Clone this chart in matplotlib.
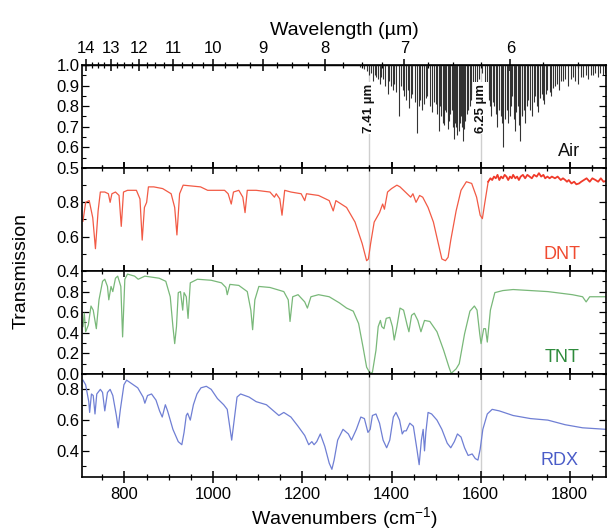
import numpy as np
import matplotlib
matplotlib.use("Agg")
import matplotlib.pyplot as plt
from matplotlib.ticker import MultipleLocator, FixedLocator

plt.rcParams['font.family'] = ['Liberation Sans', 'DejaVu Sans']
plt.rcParams['mathtext.fontset'] = 'custom'
plt.rcParams['mathtext.rm'] = 'Liberation Sans'
plt.rcParams['mathtext.it'] = 'Liberation Sans:italic'

# ---------------- data ----------------
air_pos = [1330, 1338, 1344, 1350, 1354, 1358, 1362, 1365, 1369, 1373, 1377, 1380, 1385,
           1391, 1395, 1399, 1403, 1406, 1411, 1417, 1421, 1425, 1429, 1432, 1436, 1439,
           1443, 1447, 1452, 1458, 1462, 1465, 1469, 1473, 1477, 1480, 1486, 1491, 1495,
           1499, 1503, 1506, 1509, 1512, 1515, 1518, 1521, 1523, 1526, 1529, 1532, 1535,
           1538, 1540, 1543, 1545, 1548, 1551, 1553, 1555, 1558, 1560, 1563, 1566, 1569,
           1572, 1576, 1579, 1583, 1587, 1592, 1596, 1604, 1610, 1614, 1618, 1621, 1624,
           1627, 1630, 1634, 1637, 1641, 1645, 1648, 1651, 1655, 1659, 1662, 1666, 1669,
           1671, 1674, 1677, 1680, 1683, 1686, 1689, 1692, 1694, 1697, 1700, 1704, 1707,
           1711, 1715, 1719, 1722, 1726, 1729, 1733, 1737, 1740, 1743, 1747, 1750, 1755,
           1759, 1763, 1767, 1772, 1776, 1781, 1785, 1790, 1796, 1802, 1808, 1813, 1819,
           1825, 1830, 1836, 1841, 1847, 1852, 1858, 1863, 1869, 1874, 1879]
air_min = [0.99, 0.98, 0.97, 0.95, 0.96, 0.92, 0.95, 0.94, 0.93, 0.91, 0.94, 0.93, 0.90,
           0.86, 0.92, 0.90, 0.88, 0.91, 0.87, 0.75, 0.90, 0.88, 0.85, 0.83, 0.88, 0.79,
           0.84, 0.86, 0.82, 0.67, 0.80, 0.83, 0.78, 0.81, 0.84, 0.85, 0.80, 0.77, 0.82,
           0.81, 0.76, 0.68, 0.80, 0.75, 0.72, 0.71, 0.78, 0.77, 0.69, 0.73, 0.76, 0.78,
           0.70, 0.64, 0.72, 0.70, 0.66, 0.68, 0.72, 0.75, 0.70, 0.63, 0.69, 0.73, 0.76,
           0.78, 0.80, 0.83, 0.86, 0.88, 0.90, 0.93, 0.96, 0.90, 0.86, 0.83, 0.80, 0.75,
           0.82, 0.80, 0.76, 0.70, 0.78, 0.75, 0.72, 0.60, 0.74, 0.78, 0.72, 0.75, 0.80,
           0.85, 0.74, 0.68, 0.77, 0.80, 0.71, 0.63, 0.76, 0.75, 0.78, 0.72, 0.80, 0.83,
           0.78, 0.75, 0.82, 0.85, 0.80, 0.77, 0.84, 0.86, 0.83, 0.81, 0.86, 0.88, 0.87,
           0.85, 0.89, 0.90, 0.91, 0.88, 0.92, 0.92, 0.93, 0.90, 0.93, 0.94, 0.92, 0.91,
           0.94, 0.94, 0.95, 0.93, 0.95, 0.95, 0.96, 0.94, 0.96, 0.95, 0.96]

dnt_x = [707, 713, 721, 729, 735, 741, 746, 756, 764, 768, 772, 780, 788, 793, 798, 807,
         827, 835, 840, 845, 850, 854, 866, 886, 905, 913, 918, 924, 932, 971, 987, 1025,
         1033, 1040, 1045, 1057, 1066, 1071, 1076, 1096, 1127, 1137, 1141, 1149, 1154,
         1160, 1174, 1197, 1205, 1209, 1236, 1260, 1269, 1275, 1299, 1318, 1334, 1344,
         1348, 1353, 1361, 1373, 1380, 1384, 1391, 1400, 1412, 1419, 1431, 1443, 1448,
         1455, 1463, 1470, 1482, 1494, 1505, 1513, 1521, 1527, 1533, 1545, 1556, 1568,
         1580, 1591, 1599, 1604, 1609, 1617]
dnt_y = [0.69, 0.80, 0.81, 0.71, 0.53, 0.75, 0.86, 0.86, 0.85, 0.80, 0.85, 0.86, 0.84,
         0.66, 0.86, 0.87, 0.87, 0.82, 0.58, 0.77, 0.80, 0.89, 0.89, 0.88, 0.85, 0.77,
         0.61, 0.85, 0.90, 0.89, 0.87, 0.87, 0.85, 0.79, 0.86, 0.87, 0.83, 0.74, 0.87,
         0.87, 0.86, 0.83, 0.85, 0.82, 0.725, 0.87, 0.86, 0.85, 0.81, 0.85, 0.84, 0.81,
         0.75, 0.81, 0.77, 0.685, 0.56, 0.46, 0.47, 0.56, 0.685, 0.74, 0.79, 0.76, 0.86,
         0.88, 0.90, 0.89, 0.86, 0.83, 0.85, 0.80, 0.84, 0.83, 0.77, 0.685, 0.56, 0.47,
         0.46, 0.48, 0.58, 0.75, 0.87, 0.92, 0.91, 0.83, 0.725, 0.705, 0.79, 0.92]
# noisy high-transmission tail of the DNT spectrum
dnt_tail_x = [1617, 1622, 1626, 1630, 1634, 1638, 1642, 1646, 1650, 1654, 1658, 1662,
              1666, 1670, 1673, 1678, 1682, 1686, 1690, 1695, 1700, 1705, 1710, 1715,
              1720, 1726, 1731, 1736, 1741, 1745, 1750, 1755, 1760, 1767, 1773, 1780,
              1785, 1790, 1794, 1798, 1804, 1810, 1815, 1821, 1826, 1832, 1838, 1845,
              1851, 1858, 1864, 1870, 1876, 1882]
dnt_tail_y = [0.92, 0.94, 0.93, 0.95, 0.94, 0.96, 0.93, 0.95, 0.94, 0.96, 0.95, 0.93,
              0.95, 0.94, 0.96, 0.94, 0.95, 0.93, 0.95, 0.96, 0.94, 0.96, 0.95, 0.94,
              0.96, 0.95, 0.97, 0.95, 0.96, 0.94, 0.95, 0.94, 0.95, 0.94, 0.95, 0.93,
              0.94, 0.93, 0.92, 0.93, 0.91, 0.92, 0.905, 0.91, 0.92, 0.93, 0.94, 0.92,
              0.94, 0.93, 0.92, 0.94, 0.92, 0.925]

tnt_x = [707, 710, 713, 719, 725, 730, 737, 743, 751, 756, 762, 765, 770, 774, 780, 785,
         792, 796, 801, 807, 823, 831, 846, 878, 893, 903, 909, 913, 917, 921, 926, 931,
         934, 939, 943, 948, 964, 995, 1018, 1028, 1031, 1037, 1057, 1076, 1084, 1088,
         1093, 1102, 1127, 1158, 1168, 1172, 1178, 1190, 1205, 1211, 1219, 1236, 1260,
         1283, 1299, 1314, 1326, 1336, 1344, 1352, 1357, 1365, 1370, 1375, 1378, 1383,
         1388, 1396, 1402, 1406, 1412, 1419, 1427, 1435, 1439, 1445, 1451, 1459, 1466,
         1474, 1486, 1502, 1517, 1529, 1534, 1545, 1552, 1564, 1576, 1586, 1592, 1598,
         1601, 1607, 1611, 1615, 1622, 1632, 1650, 1673, 1751, 1806, 1829, 1837, 1845,
         1882]
tnt_y = [0.46, 0.59, 0.41, 0.475, 0.66, 0.62, 0.44, 0.72, 0.90, 0.92, 0.85, 0.72, 0.85,
         0.80, 0.93, 0.95, 0.85, 0.36, 0.92, 0.97, 0.95, 0.92, 0.95, 0.93, 0.90, 0.75,
         0.46, 0.295, 0.46, 0.79, 0.80, 0.62, 0.79, 0.75, 0.54, 0.885, 0.92, 0.91, 0.885,
         0.84, 0.77, 0.87, 0.86, 0.80, 0.62, 0.43, 0.72, 0.85, 0.84, 0.80, 0.72, 0.51,
         0.75, 0.77, 0.70, 0.64, 0.75, 0.77, 0.75, 0.69, 0.64, 0.61, 0.49, 0.26, 0.066,
         0.006, 0.016, 0.23, 0.46, 0.52, 0.46, 0.44, 0.54, 0.55, 0.46, 0.33, 0.46, 0.64,
         0.62, 0.475, 0.41, 0.57, 0.59, 0.52, 0.41, 0.52, 0.51, 0.41, 0.23, 0.066, 0.006,
         0.05, 0.10, 0.39, 0.61, 0.66, 0.62, 0.39, 0.295, 0.44, 0.44, 0.31, 0.62, 0.79,
         0.81, 0.82, 0.80, 0.77, 0.75, 0.70, 0.75, 0.75]

rdx_x = [707, 713, 720, 722, 726, 730, 734, 738, 746, 751, 756, 762, 768, 774, 782, 786,
         791, 799, 805, 815, 830, 842, 846, 852, 861, 871, 879, 885, 892, 897, 909, 921,
         929, 934, 939, 942, 948, 955, 963, 972, 984, 995, 1009, 1023, 1031, 1037, 1041,
         1047, 1053, 1061, 1080, 1096, 1119, 1135, 1147, 1158, 1174, 1190, 1205, 1214,
         1221, 1226, 1232, 1240, 1250, 1260, 1266, 1271, 1279, 1291, 1303, 1310, 1321,
         1331, 1339, 1347, 1352, 1357, 1365, 1373, 1381, 1389, 1396, 1404, 1410, 1418,
         1424, 1428, 1433, 1441, 1449, 1457, 1462, 1467, 1471, 1474, 1477, 1482, 1490,
         1502, 1513, 1525, 1533, 1541, 1548, 1556, 1564, 1572, 1581, 1588, 1594, 1599,
         1605, 1615, 1626, 1642, 1673, 1712, 1751, 1790, 1829, 1882]
rdx_y = [0.86, 0.83, 0.72, 0.65, 0.77, 0.76, 0.64, 0.77, 0.80, 0.78, 0.66, 0.78, 0.80,
         0.76, 0.63, 0.55, 0.67, 0.83, 0.86, 0.84, 0.81, 0.75, 0.71, 0.76, 0.77, 0.73,
         0.66, 0.62, 0.70, 0.66, 0.54, 0.46, 0.44, 0.52, 0.63, 0.645, 0.60, 0.70, 0.77,
         0.81, 0.82, 0.80, 0.74, 0.70, 0.67, 0.55, 0.47, 0.61, 0.75, 0.77, 0.75, 0.72,
         0.70, 0.66, 0.63, 0.65, 0.62, 0.56, 0.50, 0.44, 0.46, 0.44, 0.46, 0.51, 0.43,
         0.32, 0.28, 0.34, 0.47, 0.54, 0.51, 0.47, 0.54, 0.62, 0.61, 0.52, 0.54, 0.63,
         0.64, 0.58, 0.47, 0.42, 0.47, 0.62, 0.65, 0.60, 0.51, 0.53, 0.53, 0.58, 0.56,
         0.41, 0.31, 0.47, 0.54, 0.40, 0.52, 0.65, 0.64, 0.60, 0.54, 0.45, 0.42, 0.46,
         0.51, 0.49, 0.42, 0.37, 0.38, 0.35, 0.34, 0.41, 0.54, 0.64, 0.67, 0.66, 0.63,
         0.61, 0.60, 0.57, 0.55, 0.54]

marker_lines = [1349.5, 1600.0]
marker_texts = ['7.41 µm', '6.25 µm']
wl_ticks = [14, 13, 12, 11, 10, 9, 8, 7, 6]
names = ['Air', 'DNT', 'TNT', 'RDX']
name_xpos = [0.93, 0.915, 0.915, 0.91]
line_colors = ['#333333', '#f25a45', '#79b879', '#6f7fd4']
label_colors = ['#111111', '#f04b30', '#2e8b3c', '#4a5cc8']
ylims = [(0.5, 1.0), (0.4, 1.0), (0.0, 1.0), (0.23, 0.9)]

# ---------------- figure ----------------
fig = plt.figure(figsize=(6.08, 5.31), dpi=100)
gs = fig.add_gridspec(4, 1, left=0.135, right=0.997, top=0.8776, bottom=0.1017, hspace=0)
axes = [fig.add_subplot(gs[i]) for i in range(4)]
XMIN, XMAX = 705, 1882

for i, ax in enumerate(axes):
    ax.set_xlim(XMIN, XMAX)
    ax.set_ylim(*ylims[i])
    for v in marker_lines:
        ax.axvline(v, color='#cfcfcf', lw=1.0, zorder=0)
    for s in ax.spines.values():
        s.set_linewidth(1.2)
    ax.xaxis.set_major_locator(MultipleLocator(200))
    ax.xaxis.set_minor_locator(MultipleLocator(50))
    ax.tick_params(axis='x', which='both', direction='inout', top=(i > 0), bottom=True,
                   labelbottom=(i == 3), labelsize=12, pad=3)
    ax.tick_params(axis='x', which='major', length=9, width=1.1)
    ax.tick_params(axis='x', which='minor', length=5, width=0.9)
    ax.tick_params(axis='y', which='both', direction='in', left=True, right=True,
                   labelsize=12, pad=2)
    ax.tick_params(axis='y', which='major', length=5, width=0.9)
    ax.tick_params(axis='y', which='minor', length=3, width=0.8)
    ax.text(name_xpos[i], 0.16, names[i], transform=ax.transAxes, ha='center',
            va='center', fontsize=13, color=label_colors[i])

# Air
ax = axes[0]
ax.axhline(1.0, color='#111111', lw=1.0, zorder=2)
ax.vlines(air_pos, air_min, 1.0, color=line_colors[0], lw=0.8, zorder=2)
ax.set_yticks([0.5, 0.6, 0.7, 0.8, 0.9, 1.0])
ax.yaxis.set_minor_locator(MultipleLocator(0.05))
for v, t in zip(marker_lines, marker_texts):
    ax.text(v, 0.79, t, rotation=90, ha='center', va='center', fontsize=9.5,
            fontweight='bold', color='#111111', zorder=4,
            bbox=dict(boxstyle='square,pad=0.1', fc='white', ec='none'))

sec = ax.secondary_xaxis('top', functions=(lambda x: 1e4 / x, lambda x: 1e4 / x))
sec.set_xticks(wl_ticks)
sec.set_xticklabels([str(w) for w in wl_ticks])
sec.xaxis.set_minor_locator(FixedLocator(np.arange(5.25, 14.01, 0.25)))
sec.tick_params(axis='x', which='both', direction='inout', labelsize=12, pad=2)
sec.tick_params(axis='x', which='major', length=9, width=1.1)
sec.tick_params(axis='x', which='minor', length=5, width=0.9)
sec.set_xlabel('Wavelength (µm)', fontsize=14, labelpad=4)

# DNT
axes[1].plot(dnt_x, dnt_y, color=line_colors[1], lw=0.9)
axes[1].plot(dnt_tail_x, dnt_tail_y, color='#f03a2a', lw=1.3)
axes[1].yaxis.set_major_locator(FixedLocator([0.4, 0.6, 0.8]))
axes[1].yaxis.set_minor_locator(MultipleLocator(0.1))

# TNT
axes[2].plot(tnt_x, tnt_y, color=line_colors[2], lw=0.9)
axes[2].yaxis.set_major_locator(FixedLocator([0.0, 0.2, 0.4, 0.6, 0.8]))
axes[2].yaxis.set_minor_locator(MultipleLocator(0.1))

# RDX
axes[3].plot(rdx_x, rdx_y, color=line_colors[3], lw=0.9)
axes[3].yaxis.set_major_locator(FixedLocator([0.4, 0.6, 0.8]))
axes[3].yaxis.set_minor_locator(MultipleLocator(0.1))
axes[3].set_xlabel(r'Wavenumbers (cm$^{\mathregular{-1}}$)', fontsize=14, labelpad=2)

for ax in axes:
    ax.yaxis.set_major_formatter(matplotlib.ticker.FormatStrFormatter('%.1f'))

fig.text(0.035, 0.49, 'Transmission', rotation=90, ha='center', va='center', fontsize=14)

fig.savefig('out.png', dpi=100)
